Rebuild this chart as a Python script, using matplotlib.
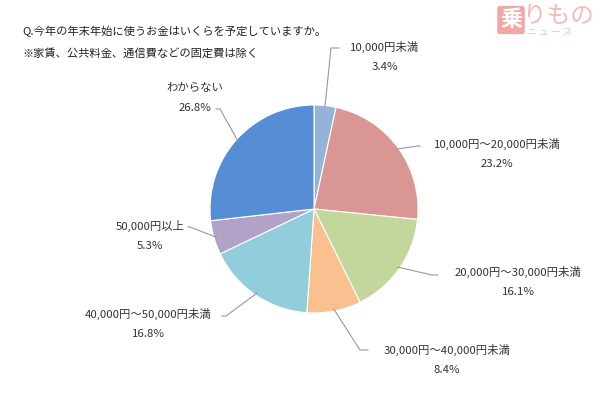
import matplotlib
matplotlib.use("Agg")
import matplotlib.pyplot as plt
import numpy as np

plt.rcParams['font.family'] = ['Noto Sans CJK JP', 'DejaVu Sans']

# ------------------------------------------------------------------
# data
# ------------------------------------------------------------------
labels = ["10,000円未満", "10,000円～20,000円未満", "20,000円～30,000円未満",
          "30,000円～40,000円未満", "40,000円～50,000円未満", "50,000円以上",
          "わからない"]
shares = [3.4, 23.2, 16.1, 8.4, 16.8, 5.3, 26.8]
colors = ["#95B3D7", "#D99694", "#C3D69B", "#FAC090", "#92CDDC", "#B3A2C7",
          "#558ED5"]

title1 = "Q.今年の年末年始に使うお金はいくらを予定していますか。"
title2 = "※家賃、公共料金、通信費などの固定費は除く"

# ------------------------------------------------------------------
# layout (pixel coordinates, y measured from top)
# ------------------------------------------------------------------
W, H = 600, 400
CX, CY, R = 314, 209, 104

# label centre, elbow of leader line, end of leader line
label_pos = [(385, 47), (497, 144), (518, 272), (447, 350), (148, 314),
             (150, 226), (195, 88)]
elbows = [(331, 48), (418, 146), (432, 275), (360, 350), (226, 316),
          (190, 227), (220, 109)]
ends = [(339, 48), (420, 146), (438, 275), (368, 350), (222, 316),
        (188, 227), (216, 109)]

fig = plt.figure(figsize=(6, 4), dpi=100)
ax = fig.add_axes([0, 0, 1, 1])

def fy(y):
    return H - y

wedges, _ = ax.pie(shares, colors=colors, startangle=90, counterclock=False,
                   center=(CX, fy(CY)), radius=R,
                   wedgeprops=dict(edgecolor='white', linewidth=0.8))
# pie() resets the limits, so set them afterwards
ax.set_xlim(0, W)
ax.set_ylim(0, H)
ax.set_aspect('equal')
ax.axis('off')

# leader lines and labels
cum = 0.0
for i, s in enumerate(shares):
    mid = cum + s / 2
    cum += s
    ang = np.deg2rad(90 - mid * 3.6)
    px = CX + R * 0.98 * np.cos(ang)
    py = CY - R * 0.98 * np.sin(ang)
    ex, ey = elbows[i]
    tx, ty = ends[i]
    ax.plot([px, ex, tx], [fy(py), fy(ey), fy(ty)], color='#999999', lw=0.8)
    lx, ly = label_pos[i]
    ax.text(lx, fy(ly), labels[i], ha='center', va='center', fontsize=8.2,
            color='#333333')
    ax.text(lx, fy(ly + 20), f"{s:.1f}%", ha='center', va='center',
            fontsize=8.2, color='#333333')

ax.text(22, fy(31), title1, ha='left', va='center', fontsize=8.1, color='#222222')
ax.text(22, fy(53), title2, ha='left', va='center', fontsize=8.1, color='#222222')

# watermark logo
ax.text(511, fy(20), "乗", ha='center', va='center', fontsize=16,
        color='white', fontweight='bold',
        bbox=dict(boxstyle='round,pad=0.12', fc='#F2A7A7', ec='none'))
ax.text(523, fy(16), "りもの", ha='left', va='center', fontsize=17,
        color='#F4B9B9')
ax.text(527, fy(33), "ニ ュ ー ス", ha='left', va='center', fontsize=7,
        color='#E8C4C4')

fig.savefig("out.png", dpi=100)
